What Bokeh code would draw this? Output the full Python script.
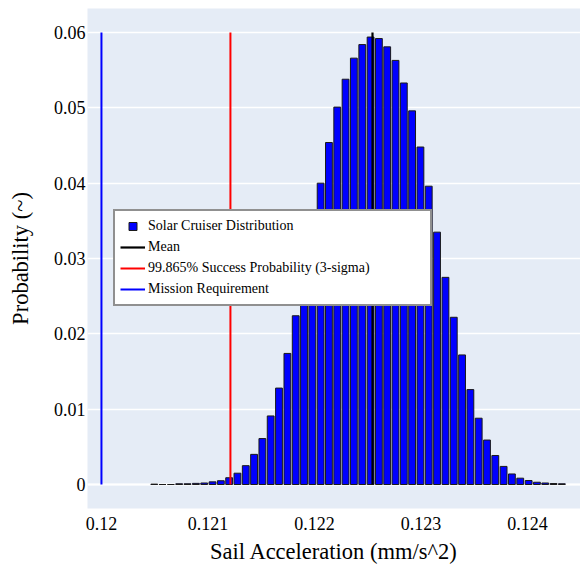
from bokeh.plotting import figure
from bokeh.models import (Range1d, FixedTicker, Legend, LegendItem, Span, ColumnDataSource,
                          CustomJSTickFormatter)
from bokeh.embed import file_html
from bokeh.resources import INLINE

# ---------------- data ----------------
bin_centers = [0.120496, 0.120574, 0.120652, 0.120730, 0.120808, 0.120887, 0.120965,
               0.121043, 0.121121, 0.121199, 0.121277, 0.121355, 0.121433, 0.121511,
               0.121589, 0.121667, 0.121746, 0.121824, 0.121902, 0.121980, 0.122058,
               0.122136, 0.122214, 0.122292, 0.122370, 0.122449, 0.122527, 0.122605,
               0.122683, 0.122761, 0.122839, 0.122917, 0.122995, 0.123073, 0.123151,
               0.123230, 0.123308, 0.123386, 0.123464, 0.123542, 0.123620, 0.123698,
               0.123776, 0.123854, 0.123932, 0.124011, 0.124089, 0.124167, 0.124245,
               0.124323]
probabilities = [0.00005, 0.0, 0.0, 0.0001, 0.0001, 0.00015, 0.0002,
                 0.00035, 0.0005, 0.0009, 0.0015, 0.0025, 0.0040, 0.0061,
                 0.0091, 0.0128, 0.0174, 0.0224, 0.0270, 0.0333, 0.0400,
                 0.0454, 0.0501, 0.0538, 0.0566, 0.0584, 0.0594, 0.0592,
                 0.0581, 0.0563, 0.0533, 0.0496, 0.0448, 0.0396, 0.0335,
                 0.0275, 0.0222, 0.0172, 0.0126, 0.0088, 0.0059, 0.00385,
                 0.0024, 0.0014, 0.00084, 0.00053, 0.0003, 0.0002, 0.00013,
                 0.0001]
bin_width = 0.0000781

mean_value = 0.122545
three_sigma_value = 0.121211
requirement_value = 0.12
line_top = 0.06

x_ticks = [0.120, 0.121, 0.122, 0.123, 0.124]
y_ticks = [0.0, 0.01, 0.02, 0.03, 0.04, 0.05, 0.06]

FONT = "Liberation Serif"

p = figure(width=580, height=568, output_backend="svg", toolbar_location=None,
           x_range=Range1d(0.119869, 0.124498), y_range=Range1d(-0.003186, 0.06319),
           min_border_left=87, min_border_right=0, min_border_top=8, min_border_bottom=60,
           background_fill_color="#E5ECF6", border_fill_color="white",
           outline_line_color=None)

# grid
p.xgrid.grid_line_color = None
p.ygrid.ticker = FixedTicker(ticks=y_ticks)
p.ygrid.grid_line_color = "white"
p.ygrid.grid_line_width = 1.3
p.add_layout(Span(location=0, dimension="width", line_color="white",
                  line_width=2, level="underlay"))

src = ColumnDataSource(data=dict(x=bin_centers, top=probabilities))
bars = p.vbar(x="x", top="top", bottom=0, width=bin_width * 0.82, source=src,
              fill_color="#0000FF", line_color="#1a1a1a", line_width=1)

mean_r = p.line([mean_value, mean_value], [0, line_top], line_color="black", line_width=2.2)
sig_r = p.line([three_sigma_value, three_sigma_value], [0, line_top], line_color="red", line_width=2)
req_r = p.line([requirement_value, requirement_value], [0, line_top], line_color="#0000FF", line_width=2)

# legend-only marker (placed below the visible y range)
dummy = p.scatter(x=[requirement_value], y=[-1.0], marker="square", fill_color="#0000FF",
                  line_color="#1a1a1a", line_width=1)

legend = Legend(items=[
    LegendItem(label="Solar Cruiser Distribution", renderers=[dummy]),
    LegendItem(label="Mean", renderers=[mean_r]),
    LegendItem(label="99.865% Success Probability (3-sigma)", renderers=[sig_r]),
    LegendItem(label="Mission Requirement", renderers=[req_r]),
], location=(26, 202))
legend.label_text_font = FONT
legend.label_text_font_size = "14px"
legend.label_text_color = "black"
legend.glyph_width = 25
legend.glyph_height = 20
legend.label_height = 20
legend.label_width = 277
legend.label_standoff = 3
legend.spacing = 1
legend.padding = 5
legend.margin = 0
legend.border_line_color = "#222222"
legend.border_line_width = 2
legend.background_fill_color = "white"
legend.background_fill_alpha = 1.0
p.add_layout(legend, "center")

fmt_code = "return tick.toString();"

# axes
for ax in (p.xaxis[0], p.yaxis[0]):
    ax.axis_line_color = None
    ax.major_tick_line_color = None
    ax.minor_tick_line_color = None
    ax.major_tick_out = 0
    ax.major_tick_in = 0
    ax.minor_tick_out = 0
    ax.minor_tick_in = 0
    ax.formatter = CustomJSTickFormatter(code=fmt_code)
    ax.major_label_text_font = FONT
    ax.major_label_text_font_size = "18px"
    ax.major_label_text_color = "black"
    ax.axis_label_text_font = FONT
    ax.axis_label_text_font_size = "22.5px"
    ax.axis_label_text_font_style = "normal"
    ax.axis_label_text_color = "black"

p.xaxis[0].ticker = FixedTicker(ticks=x_ticks)
p.xaxis[0].axis_label = "Sail Acceleration (mm/s^2)"
p.xaxis[0].major_label_standoff = 8
p.xaxis[0].axis_label_standoff = 6

p.yaxis[0].ticker = FixedTicker(ticks=y_ticks)
p.yaxis[0].axis_label = "Probability (~)"
p.yaxis[0].major_label_standoff = 2
p.yaxis[0].axis_label_standoff = 18

open("out.html", "w").write(file_html(p, INLINE))
